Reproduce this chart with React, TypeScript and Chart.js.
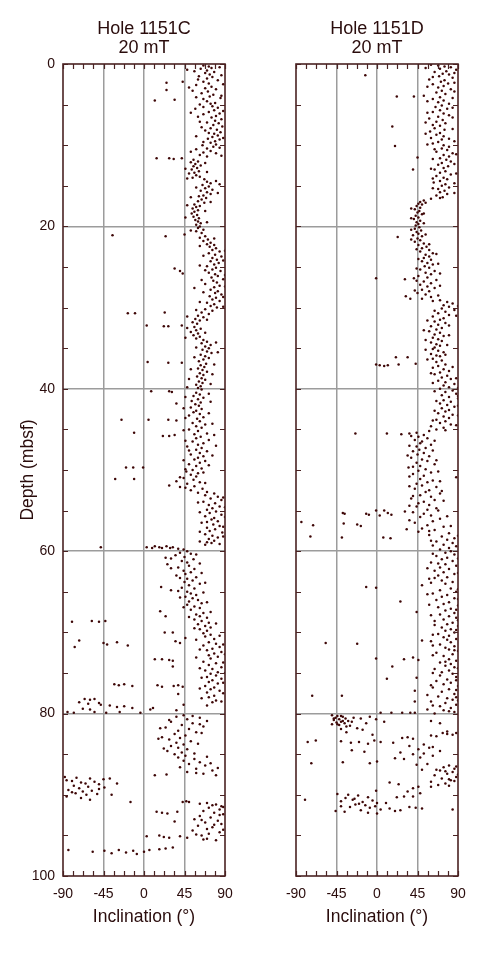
import React, { useEffect, useRef } from "react";
import { Chart, registerables } from "chart.js";

Chart.register(...registerables);

// ---------- DATA ----------
const xTickValues = [-90, -45, 0, 45, 90];
const yTickValues = [0, 20, 40, 60, 80, 100];
const titleC = ["Hole 1151C", "20 mT"];
const titleD = ["Hole 1151D", "20 mT"];
const xAxisTitle = "Inclination (°)";
const yAxisTitle = "Depth (mbsf)";

// [depth (mbsf), inclination (°)]
const hole1151C: [number, number][] = [
  [0.2,66],[0.3,72],[0.5,75],[0.6,63],[0.8,70],[1.0,78],[1.1,68],[1.3,73],[1.5,61],[1.6,76],[1.8,70],[2.0,82],[2.2,43],[2.3,25],[2.2,66],[2.4,72],[2.6,58],[2.8,75],[3.0,68],[3.2,25],[3.1,80],[3.4,71],[3.6,64],[3.8,77],[4.0,73],[4.2,85],[4.4,34],[4.5,12],[4.3,66],[4.6,70],[4.8,79],[5.0,62],[4.9,74],
  [5.2,76],[5.4,82],[5.5,57],[5.7,78],[5.9,72],[6.1,84],[6.2,66],[6.4,80],[6.6,75],[6.8,86],[7.0,79],[7.1,62],[7.3,83],[7.5,77],[7.7,87],[7.9,74],[8.1,81],[8.2,68],[8.4,85],[8.6,78],[8.8,82],[9.0,76],[9.2,71],[9.3,84],[9.5,79],[9.7,74],[9.9,80],[10.0,65],
  [10.2,77],[10.4,70],[10.5,58],[10.7,74],[10.9,66],[11.0,80],[11.2,62],[11.4,70],[11.6,14],[11.6,28],[11.7,33],[11.6,42],[11.8,55],[12.0,60],[12.1,52],[12.3,57],[12.5,63],[12.6,55],[12.8,59],[13.0,53],[13.2,61],[13.4,56],[13.5,50],[13.7,58],[13.9,62],[14.0,54],[14.2,67],[14.4,80],[14.5,70],[14.7,74],[14.9,65],
  [15.1,72],[15.3,68],[15.5,76],[15.6,63],[15.8,70],[16.0,74],[16.2,66],[16.3,61],[16.5,69],[16.7,64],[16.9,60],[17.1,67],[17.3,56],[17.5,62],[17.6,58],[17.8,54],[18.0,60],[18.2,56],[18.4,53],[18.6,59],[18.8,55],[19.0,61],[19.2,57],[19.4,60],[19.6,63],[19.8,58],[20.0,62],
  [20.2,60],[20.4,66],[20.6,58],[20.8,64],[21.0,45],[21.1,-35],[21.2,24],[21.2,68],[21.4,62],[21.6,71],[21.8,66],[22.0,74],[22.2,70],[22.3,78],[22.5,73],[22.7,80],[22.9,76],[23.1,84],[23.3,72],[23.5,79],[23.7,86],[23.9,76],[24.1,81],[24.3,74],[24.5,83],[24.7,78],[24.9,70],[25.2,34],[25.5,40],[25.8,43],
  [25.1,80],[25.3,76],[25.5,85],[25.7,72],[25.9,79],[26.1,82],[26.3,75],[26.5,88],[26.7,77],[26.9,81],[27.1,68],[27.3,84],[27.5,78],[27.6,56],[27.8,74],[28.0,82],[28.2,79],[28.4,86],[28.6,73],[28.8,80],[29.0,76],[29.2,84],[29.4,70],[29.6,78],[29.8,74],[30.0,81],[30.2,68],[30.4,76],
  [30.7,-18],[30.7,-10],[30.6,23],[30.6,64],[30.8,72],[31.0,60],[31.2,66],[31.4,57],[31.6,62],[31.8,54],[32.0,59],[32.2,3],[32.3,22],[32.3,27],[32.2,42],[32.4,56],[32.6,63],[32.8,58],[33.0,52],[33.2,60],[33.4,55],[33.6,62],[33.8,58],[34.0,66],[34.2,70],[34.4,64],[34.6,74],[34.8,68],[35.0,72],
  [35.2,65],[35.4,70],[35.6,75],[35.8,63],[36.0,68],[36.2,72],[36.4,66],[36.7,4],[36.8,27],[36.8,42],[36.6,61],[36.9,69],[37.1,63],[37.3,67],[37.5,60],[37.7,65],[37.9,70],[38.1,62],[38.3,66],[38.5,59],[38.7,64],[38.9,68],[39.1,61],[39.3,65],[39.5,58],[39.7,63],[39.9,60],
  [40.1,64],[40.3,8],[40.3,28],[40.4,31],[40.5,58],[40.7,62],[40.9,55],[41.1,66],[41.3,60],[41.5,53],[41.8,36],[41.7,63],[41.9,57],[42.1,61],[42.3,52],[42.5,64],[42.7,58],[42.9,55],[43.1,62],[43.3,50],[43.5,66],[43.8,-25],[43.8,5],[43.8,27],[43.9,36],[43.7,59],[44.0,62],[44.2,54],[44.4,68],[44.6,58],[44.8,64],
  [45.0,50],[45.2,60],[45.4,-11],[45.5,70],[45.6,56],[45.8,21],[45.8,28],[45.7,34],[45.9,63],[46.1,58],[46.3,72],[46.5,54],[46.7,66],[46.9,60],[47.1,48],[47.3,64],[47.5,58],[47.7,70],[47.9,62],[48.1,52],[48.3,66],[48.5,60],[48.7,56],[48.9,68],[49.1,62],[49.3,50],[49.5,58],[49.7,-20],[49.7,-12],[49.7,-1],[49.8,64],
  [50.0,54],[50.2,47],[50.4,60],[50.6,52],[50.8,58],[51.1,-32],[51.1,-11],[51.0,44],[51.2,55],[51.4,36],[51.5,62],[51.7,48],[51.9,28],[52.0,56],[52.1,40],[52.3,65],[52.5,52],[52.7,70],[52.9,78],[53.1,68],[53.3,82],[53.5,74],[53.7,86],[53.9,66],[54.1,79],[54.3,72],[54.5,84],[54.7,76],[54.9,70],
  [55.1,80],[55.3,73],[55.5,86],[55.7,68],[55.9,78],[56.1,75],[56.3,82],[56.5,64],[56.7,77],[56.9,84],[57.1,70],[57.3,79],[57.5,73],[57.7,87],[57.9,68],[58.1,76],[58.3,82],[58.5,72],[58.7,78],[58.9,70],[59.0,75],[59.2,68],[59.5,-48],[59.5,3],[59.6,9],[59.4,12],[59.5,17],[59.6,20],[59.4,25],[59.6,29],[59.5,32],[59.7,38],[59.8,44],
  [60.0,48],[60.2,40],[60.3,52],[60.5,35],[60.7,45],[60.9,30],[61.0,55],[61.2,42],[61.4,48],[61.6,26],[61.8,50],[62.0,38],[62.2,56],[62.4,44],[62.6,52],[62.8,46],[63.0,36],[63.2,58],[63.4,48],[63.6,54],[63.8,45],[64.0,62],[64.4,19],[64.2,50],[64.6,56],[64.8,30],[64.9,38],[65.0,48],
  [65.2,52],[65.4,58],[65.6,46],[65.8,54],[66.0,60],[66.2,50],[66.4,64],[66.6,48],[66.8,56],[67.0,62],[67.4,18],[67.2,52],[67.6,66],[67.8,58],[68.0,24],[68.0,62],[68.2,70],[68.4,56],[68.7,-80],[68.6,-58],[68.7,-50],[68.6,-43],[68.6,64],[68.8,72],[69.0,60],[69.2,68],[69.4,74],[69.6,62],[69.8,70],[70.0,23],[70.0,32],[70.1,66],
  [70.3,74],[70.5,68],[70.7,46],[70.8,78],[71.0,-72],[71.2,-30],[71.3,-45],[71.5,-41],[71.6,-18],[71.8,-77],[71.1,35],[71.3,40],[71.2,72],[71.4,80],[71.6,66],[71.8,84],[72.0,76],[72.2,70],[72.4,86],[72.6,78],[72.8,72],[73.0,82],[73.3,12],[73.3,20],[73.4,28],[73.2,74],[73.5,32],[73.6,66],[73.8,80],[74.0,72],[74.2,32],[74.3,86],[74.5,76],[74.7,68],[74.9,82],
  [75.1,74],[75.3,80],[75.5,70],[75.7,86],[75.9,76],[76.1,72],[76.4,-33],[76.5,-28],[76.4,-22],[76.6,-13],[76.5,15],[76.7,20],[76.6,33],[76.5,38],[76.7,43],[76.3,82],[76.6,68],[76.8,78],[77.0,74],[77.2,84],[77.4,70],[77.6,38],[77.8,78],[78.0,72],[78.2,-66],[78.3,-60],[78.2,-55],[78.4,80],[78.6,-72],[78.7,-50],[78.8,-62],[78.9,-48],[78.6,76],[78.9,44],[79.0,-38],[79.2,-30],[79.1,-22],[79.4,-68],[79.5,-60],[79.3,-13],[79.5,7],[79.3,10],[79.6,36],[79.8,-85],[79.9,-78],[79.8,-55],[79.9,-42],[79.8,-27],[79.9,-4],
  [80.2,44],[80.4,36],[80.5,62],[80.7,48],[80.9,70],[81.0,30],[81.2,54],[81.4,42],[81.6,66],[81.7,24],[81.9,50],[82.1,38],[82.3,58],[82.5,34],[82.7,46],[82.9,20],[83.0,40],[83.2,28],[83.4,52],[83.6,36],[83.8,44],[84.0,30],[84.2,38],[84.4,48],[84.6,26],[84.8,42],[85.0,34],
  [85.2,46],[85.4,38],[85.6,56],[85.8,44],[86.0,62],[86.2,50],[86.4,68],[86.6,40],[86.8,58],[87.0,76],[87.2,48],[87.4,66],[87.6,80],[87.6,12],[87.5,25],[87.8,-88],[87.9,-75],[88.0,-60],[88.1,-45],[88.0,-38],[88.3,-80],[88.5,-70],[88.4,-55],[88.6,-65],[88.7,-50],[88.9,-78],[89.0,-62],[89.2,-72],[89.1,-44],[89.4,-84],[89.5,-58],[89.6,-68],[89.8,-76],[89.9,-52],[90.0,-64],[88.6,-30],[90.0,-36],
  [90.2,-86],[90.4,-70],[90.6,-60],[90.9,43],[90.8,47],[90.9,50],[90.9,-15],[91.0,70],[91.2,80],[91.4,86],[91.3,76],[91.6,72],[91.8,84],[92.0,66],[92.2,78],[92.1,14],[92.2,20],[92.3,26],[92.1,37],[92.4,88],[92.6,62],[92.8,74],[93.0,56],[93.2,82],[93.3,34],[93.4,68],[93.6,86],[93.8,60],[94.0,76],[94.2,70],[94.4,54],[94.6,84],[94.8,72],[95.0,64],[95.1,3],[95.0,17],[95.2,22],[95.3,28],[95.1,40],[95.3,48],[95.4,70],[95.6,80],[96.8,-84],[97.0,-57],[96.9,-44],[97.2,-36],[96.8,-28],[97.1,-20],[96.9,-12],[97.3,-8],[97.0,0],[96.8,6],[96.7,17],[96.6,24],[96.5,32],
  [0.4,84],[0.9,56],[1.4,86],[1.9,60],[2.5,88],[3.3,54],[3.9,86],[4.1,58],[5.3,66],[5.8,88],[6.5,60],[7.2,70],[7.8,64],[8.5,72],[9.1,88],[9.6,66],[0.7,48],[2.9,50],[6.0,52],[8.9,58],
  [10.3,84],[10.8,52],[11.3,86],[12.2,68],[12.9,46],[13.3,70],[14.1,48],[14.8,84],[15.2,58],[15.9,82],[16.4,52],[17.0,74],[17.4,48],[18.1,68],[18.9,46],[19.5,70],
  [20.5,52],[21.5,78],[22.4,62],[23.0,90],[23.6,66],[24.2,88],[24.8,62],[25.4,68],[26.0,90],[26.6,64],[27.4,90],[28.1,66],[28.7,88],[29.3,62],[29.9,88],[30.3,58],
  [31.1,48],[31.5,70],[32.5,48],[33.1,68],[33.7,46],[34.3,80],[34.9,58],[35.5,82],[36.1,56],[37.0,78],[37.6,52],[38.2,76],[38.8,50],[39.4,74],[39.8,48],
  [40.6,72],[41.0,46],[41.6,74],[42.4,44],[43.0,72],[43.6,46],[44.3,76],[45.1,44],[45.7,78],[46.4,46],[47.0,80],[47.6,50],[48.2,76],[48.8,44],[49.4,72],[49.9,46],
  [50.3,66],[50.9,40],[51.6,68],[52.2,46],[52.8,60],[53.4,88],[54.0,60],[54.6,90],[55.2,62],[55.8,90],[56.4,70],[57.0,88],[57.6,62],[58.2,88],[58.8,62],[59.1,84],
  [60.4,58],[60.8,24],[61.5,62],[62.1,30],[62.7,64],[63.3,40],[63.9,68],[64.5,42],[65.1,66],[65.7,40],[66.3,70],[66.9,44],[67.5,74],[68.1,50],[68.9,80],[69.5,56],
  [70.4,84],[70.9,58],[71.5,88],[72.1,62],[72.7,90],[73.1,58],[73.7,88],[74.4,62],[75.0,90],[75.6,64],[76.2,88],[76.9,62],[77.5,88],[78.1,64],[78.5,86],[79.0,70],
  [80.3,54],[80.8,28],[81.3,62],[81.8,18],[82.4,64],[83.1,16],[83.7,60],[84.3,22],[84.9,56],[85.3,70],[86.1,74],[86.7,82],[87.3,58],[88.2,-86],[89.3,-50],[89.7,-80],
  [91.1,62],[91.5,88],[92.5,84],[93.1,64],[93.7,78],[94.3,88],[94.9,58],[95.5,66]
];

const hole1151D: [number, number][] = [
  [0.1,60],[0.2,68],[0.3,75],[0.4,82],[0.6,70],[0.7,88],[0.9,77],[1.0,64],[1.2,73],[1.4,-13],[1.3,80],[1.5,69],[1.7,84],[1.9,58],[2.0,75],[2.2,71],[2.4,79],[2.5,62],[2.7,74],[2.9,68],[3.1,82],[3.3,72],[3.5,66],[3.7,76],[3.9,52],[4.0,22],[4.0,41],[4.1,70],[4.3,62],[4.5,74],[4.7,68],[4.9,80],
  [5.1,72],[5.3,65],[5.5,78],[5.7,70],[5.9,62],[6.1,74],[6.3,80],[6.5,68],[6.7,58],[6.9,73],[7.1,66],[7.3,76],[7.5,62],[7.7,17],[7.6,70],[7.9,64],[8.1,75],[8.3,59],[8.5,70],[8.7,66],[8.9,74],[9.1,60],[9.3,72],[9.5,86],[9.6,68],[9.8,62],[10.0,74],[10.1,20],
  [10.2,80],[10.4,72],[10.6,78],[10.8,66],[11.0,84],[11.2,74],[11.4,80],[11.5,45],[11.6,70],[11.8,77],[12.0,82],[12.2,72],[12.4,68],[12.6,79],[12.8,74],[13.0,40],[13.0,64],[13.2,76],[13.4,70],[13.6,82],[13.8,66],[14.0,74],[14.2,78],[14.4,70],[14.6,63],[14.8,76],
  [15.0,72],[15.2,80],[15.4,68],[15.6,75],[15.8,70],[16.0,78],[16.2,66],[16.4,73],[16.6,60],[16.8,52],[17.0,48],[17.2,46],[17.3,50],[17.5,44],[17.7,48],[17.9,42],[18.1,47],[18.3,45],[18.5,50],[18.7,43],[18.9,46],[19.1,41],[19.3,48],[19.5,44],[19.7,46],[19.9,43],
  [20.1,47],[20.3,42],[20.5,49],[20.7,44],[20.9,46],[21.1,40],[21.3,23],[21.2,50],[21.5,45],[21.7,48],[21.9,42],[22.1,52],[22.3,46],[22.5,55],[22.7,50],[22.9,58],[23.1,48],[23.3,62],[23.5,54],[23.7,58],[23.9,52],[24.1,60],[24.3,50],[24.5,56],[24.7,62],[24.9,53],
  [25.1,58],[25.3,48],[25.5,64],[25.7,54],[25.9,60],[26.1,46],[26.4,-1],[26.5,31],[26.4,41],[26.3,56],[26.6,66],[26.8,52],[27.0,60],[27.2,48],[27.4,56],[27.6,64],[27.8,50],[28.0,58],[28.2,45],[28.4,54],[28.6,32],[28.9,37],[28.7,60],[28.9,50],[29.1,70],[29.3,78],[29.5,84],[29.7,74],[29.9,80],
  [30.1,72],[30.3,86],[30.5,76],[30.7,68],[30.9,80],[31.1,62],[31.3,74],[31.5,70],[31.7,64],[31.9,76],[32.1,68],[32.3,60],[32.5,72],[32.7,66],[32.9,58],[33.1,70],[33.3,64],[33.5,74],[33.7,62],[33.9,68],[34.1,72],[34.3,60],[34.5,66],[34.7,70],[34.9,64],
  [35.1,62],[35.3,68],[35.5,74],[35.7,60],[35.9,66],[36.1,21],[36.1,34],[36.0,70],[36.3,62],[36.5,72],[36.7,66],[37.0,-1],[37.1,3],[37.2,8],[37.1,12],[37.0,24],[36.9,43],[37.0,76],[37.2,68],[37.4,62],[37.6,74],[37.8,80],[38.0,70],[38.2,64],[38.4,78],[38.6,72],[38.8,82],[39.0,68],[39.2,76],[39.4,86],[39.6,74],[39.8,80],
  [40.0,70],[40.2,84],[40.4,76],[40.6,88],[40.8,72],[41.0,80],[41.2,90],[41.4,74],[41.6,82],[41.8,70],[42.0,78],[42.2,86],[42.4,72],[42.6,80],[42.8,76],[43.0,68],[43.2,84],[43.4,74],[43.6,80],[43.8,66],[44.0,76],[44.2,70],[44.4,82],[44.6,60],[44.8,74],
  [45.0,66],[45.2,58],[45.5,-24],[45.5,11],[45.6,27],[45.5,36],[45.4,44],[45.7,52],[45.9,46],[46.1,56],[46.3,42],[46.5,50],[46.7,48],[46.9,60],[47.1,44],[47.3,54],[47.5,47],[47.7,40],[47.9,52],[48.1,45],[48.3,58],[48.5,38],[48.7,50],[48.9,56],[49.1,44],[49.3,64],[49.5,48],[49.7,35],[49.9,54],
  [50.1,46],[50.3,60],[50.5,40],[50.7,52],[50.9,88],[51.1,48],[51.3,62],[51.5,56],[51.7,44],[51.9,50],[52.1,66],[52.3,42],[52.5,58],[52.7,54],[52.9,70],[53.1,48],[53.3,60],[53.5,38],[53.7,64],[53.9,52],[54.1,46],[54.3,58],[54.5,44],[54.7,66],[54.9,56],
  [55.0,-1],[55.0,8],[55.1,31],[55.3,-38],[55.4,-36],[55.4,-12],[55.5,-9],[55.6,3],[55.3,12],[55.5,16],[55.2,40],[55.4,52],[55.6,60],[55.8,48],[56.0,70],[56.2,36],[56.4,-84],[56.6,-37],[56.7,-22],[56.8,-71],[56.9,-18],[56.5,42],[56.8,56],[57.0,74],[57.2,50],[57.3,33],[57.4,64],[57.6,46],[57.8,80],[58.2,-74],[58.3,-39],[58.3,7],[58.4,15],[58.0,58],[58.2,72],[58.4,86],[58.6,78],[58.8,66],[59.0,84],[59.2,74],[59.4,88],[59.6,80],[59.8,70],
  [60.0,82],[60.2,76],[60.4,86],[60.6,66],[60.8,78],[61.0,72],[61.2,84],[61.4,60],[61.6,76],[61.8,88],[62.0,70],[62.2,80],[62.4,64],[62.6,74],[62.8,86],[63.0,68],[63.2,78],[63.4,58],[63.6,72],[63.8,84],[64.0,76],[64.2,50],[64.4,-12],[64.5,-1],[64.6,82],[64.8,70],[65.0,88],
  [65.2,62],[65.4,78],[65.6,72],[65.8,86],[66.0,66],[66.2,26],[66.3,80],[66.5,74],[66.7,90],[66.9,68],[67.1,82],[67.3,76],[67.5,44],[67.6,86],[67.8,70],[68.0,80],[68.2,88],[68.4,74],[68.6,64],[68.8,84],[69.0,78],[69.2,90],[69.4,72],[69.6,82],[69.8,76],
  [70.0,86],[70.2,68],[70.4,80],[70.6,74],[70.8,88],[71.0,50],[71.1,60],[71.3,-57],[71.4,-22],[71.2,82],[71.5,70],[71.7,86],[71.9,76],[72.1,80],[72.3,90],[72.5,66],[72.7,84],[72.9,74],[73.2,-1],[73.3,30],[73.1,40],[73.4,46],[73.3,80],[73.5,88],[73.7,70],[73.9,82],[74.1,76],[74.2,17],[74.3,86],[74.5,64],[74.7,80],[74.9,72],
  [75.1,84],[75.3,70],[75.5,88],[75.7,11],[75.6,44],[75.8,78],[76.0,66],[76.2,82],[76.4,74],[76.6,90],[76.8,62],[77.0,80],[77.2,42],[77.3,72],[77.6,86],[77.8,-72],[77.8,-39],[77.9,68],[78.1,78],[78.3,84],[78.5,60],[78.5,42],[78.7,76],[78.9,88],[79.1,70],[79.3,82],[79.5,56],[79.6,74],[79.8,86],[79.9,4],[79.9,16],[79.9,28],[79.9,37],[79.9,42],[80.0,64],
  [80.2,-50],[80.3,-44],[80.4,-38],[80.5,-46],[80.6,-35],[80.7,-42],[80.8,-48],[80.9,-32],[81.0,-40],[81.1,-45],[81.2,-36],[81.3,-50],[81.4,-42],[81.5,-30],[80.5,-26],[80.6,-18],[80.4,-8],[80.7,-1],[81.2,-12],[81.0,8],[81.8,-22],[81.9,-40],[80.9,60],[81.2,70],[82.0,-16],[82.3,-34],[82.4,73],[82.5,78],[82.6,84],[82.4,88],[82.8,66],[82.9,34],[83.0,28],[83.1,40],[82.6,-5],[83.3,-68],[83.5,-77],[83.4,-40],[83.6,-29],[83.5,-20],[83.7,-10],[83.3,-3],[83.5,4],[83.6,18],[83.8,52],[84.0,36],[84.2,58],[84.4,46],[84.6,70],[84.8,26],[84.5,-28],[84.7,-14],
  [85.0,40],[85.2,62],[85.4,48],[85.5,20],[85.6,30],[85.9,0],[86.0,-38],[86.1,-73],[86.1,-8],[86.2,56],[86.3,44],[86.4,80],[86.6,74],[86.8,86],[86.9,50],[87.0,70],[87.2,84],[87.4,78],[87.6,64],[87.8,88],[88.0,72],[88.2,82],[88.4,60],[88.6,76],[88.8,68],[88.5,14],[88.7,24],[89.0,46],[89.2,40],[89.5,-1],[89.6,34],[89.9,-44],[90.0,-32],[90.1,-21],[90.3,-10],[90.4,-35],[90.3,22],[90.2,30],[90.6,-80],[90.6,-27],[90.8,-40],[90.9,-16],[90.7,-5],[91.0,10],[91.2,-24],[91.3,-13],[91.4,-2],[91.5,-30],[91.6,-8],[91.8,4],[91.9,-18],[92.0,-46],[91.7,14],[91.9,26],[91.8,84],[92.1,-36],[92.2,-10],[92.3,0],[91.5,36],[91.6,43],[91.7,50],[92.0,20],
  [0.5,54],[1.1,86],[1.6,62],[2.3,86],[2.8,56],[3.4,86],[4.2,84],[4.6,56],[5.4,84],[6.0,56],[6.6,84],[7.2,54],[8.0,84],[8.6,54],[9.2,80],[9.9,56],
  [10.5,64],[11.1,88],[11.7,62],[12.3,86],[12.9,60],[13.5,88],[14.1,62],[14.7,86],[15.3,62],[15.9,86],[16.5,70],[17.1,54],[17.8,38],[18.4,52],[19.0,38],[19.6,52],
  [20.4,38],[21.0,54],[21.6,38],[22.2,58],[22.8,44],[23.4,66],[24.0,46],[24.6,68],[25.2,44],[25.8,70],[26.7,44],[27.3,70],[27.9,42],[28.5,68],[29.2,62],[29.8,90],
  [30.4,64],[31.0,88],[31.6,56],[32.2,80],[32.8,52],[33.4,80],[34.0,54],[34.6,78],[35.2,54],[35.8,76],[36.4,56],[37.3,84],[38.1,60],[38.7,88],[39.3,62],[39.9,90],
  [40.3,64],[40.9,90],[41.5,66],[42.1,90],[42.7,64],[43.3,90],[43.9,62],[44.5,88],[45.1,76],[45.8,38],[46.4,64],[47.0,36],[47.6,62],[48.2,34],[48.8,66],[49.6,40],
  [50.2,68],[50.8,36],[51.4,70],[52.0,36],[52.6,72],[53.2,40],[53.8,74],[54.4,36],[55.0,68],[55.7,78],[56.3,62],[56.9,82],[57.5,58],[58.1,90],[58.7,60],[59.3,62],
  [60.3,62],[60.9,90],[61.5,68],[62.1,56],[62.7,90],[63.3,64],[63.9,60],[64.7,90],[65.3,56],[65.9,90],[66.6,58],[67.2,88],[67.9,60],[68.5,90],[69.1,64],[69.7,88],
  [70.3,62],[70.9,78],[71.6,62],[72.2,86],[72.8,62],[73.6,76],[74.4,90],[75.0,62],[75.9,88],[76.5,60],[77.1,88],[77.7,56],[78.4,90],[79.0,62],[79.7,80],[78.0,88],
  [80.3,-40],[80.6,-48],[80.9,-38],[81.0,-28],[81.3,-44],[81.6,-34],[82.2,78],[82.7,60],[84.1,62],[84.9,52],[86.5,88],[86.9,66],[87.5,90],[88.1,80],[88.3,86],[87.1,76],[89.0,60],[88.9,80],[90.5,-25],[91.1,-20],[91.4,-40],[91.0,0],[90.2,40],[89.8,48]
];

// ---------- STYLE ----------
const FONT = "'Liberation Sans', Arial, Helvetica, sans-serif";
const TEXT_COLOR = "#2a0c0c";
const FRAME_COLOR = "#4a2222";
const GRID_COLOR = "#9c9c9c";
const POINT_COLOR = "#3e0707";

const framePlugin = {
  id: "framePlugin",
  afterDatasetsDraw(chart: any, _args: any, opts: any) {
    const { ctx, chartArea: a, scales } = chart;
    const xs = scales.x;
    const ys = scales.y;
    ctx.save();
    ctx.strokeStyle = FRAME_COLOR;
    ctx.lineWidth = 1.2;
    ctx.beginPath();
    for (let i = 0; i <= 16; i++) {
      const px = Math.round(xs.getPixelForValue(-90 + i * 11.25)) + 0.5;
      ctx.moveTo(px, a.top);
      ctx.lineTo(px, a.top + 5);
      ctx.moveTo(px, a.bottom);
      ctx.lineTo(px, a.bottom - 5);
    }
    for (let i = 0; i <= 20; i++) {
      const py = Math.round(ys.getPixelForValue(i * 5)) + 0.5;
      ctx.moveTo(a.left, py);
      ctx.lineTo(a.left + 5, py);
      ctx.moveTo(a.right, py);
      ctx.lineTo(a.right - 5, py);
    }
    ctx.stroke();
    ctx.lineWidth = 1.6;
    ctx.strokeRect(a.left, a.top, a.right - a.left, a.bottom - a.top);

    const cx = (a.left + a.right) / 2;
    ctx.fillStyle = TEXT_COLOR;
    ctx.textAlign = "center";
    ctx.textBaseline = "alphabetic";
    ctx.font = `18px ${FONT}`;
    ctx.fillText(opts.title[0], cx, 34);
    ctx.fillText(opts.title[1], cx, 53);
    ctx.font = `17.5px ${FONT}`;
    ctx.fillText(xAxisTitle, cx, a.bottom + 46);
    if (opts.showYTitle) {
      ctx.save();
      ctx.translate(33, (a.top + a.bottom) / 2);
      ctx.rotate(-Math.PI / 2);
      ctx.font = `17.5px ${FONT}`;
      ctx.fillText(yAxisTitle, 0, 0);
      ctx.restore();
    }
    ctx.restore();
  },
};

type PanelProps = {
  data: [number, number][];
  title: string[];
  showY: boolean;
  yWidth: number;
  padRight: number;
};

function Panel({ data, title, showY, yWidth, padRight }: PanelProps) {
  const ref = useRef<HTMLCanvasElement | null>(null);
  useEffect(() => {
    if (!ref.current) return;
    const chart = new Chart(ref.current, {
      type: "scatter",
      data: {
        datasets: [
          {
            data: data.map(([d, inc]) => ({ x: inc, y: d })),
            backgroundColor: POINT_COLOR,
            borderWidth: 0,
            pointRadius: 1.25,
          },
        ],
      },
      options: {
        animation: false,
        responsive: false,
        devicePixelRatio: 1,
        layout: { padding: { top: 64, right: padRight, left: 0, bottom: 0 } },
        plugins: {
          legend: { display: false },
          tooltip: { enabled: false },
          framePlugin: { title, showYTitle: showY },
        } as any,
        scales: {
          x: {
            type: "linear",
            position: "bottom",
            min: -90,
            max: 90,
            afterBuildTicks: (s: any) => {
              s.ticks = xTickValues.map((v) => ({ value: v }));
            },
            afterFit: (s: any) => {
              s.height = 78;
            },
            ticks: {
              autoSkip: false,
              maxRotation: 0,
              padding: 10,
              color: TEXT_COLOR,
              font: { family: FONT, size: 14 },
            },
            grid: {
              drawTicks: false,
              lineWidth: 1.5,
              color: (c: any) =>
                c.tick && (c.tick.value === -90 || c.tick.value === 90) ? "rgba(0,0,0,0)" : GRID_COLOR,
            },
            border: { display: false },
          },
          y: {
            type: "linear",
            position: "left",
            reverse: true,
            min: 0,
            max: 100,
            afterBuildTicks: (s: any) => {
              s.ticks = yTickValues.map((v) => ({ value: v }));
            },
            afterFit: (s: any) => {
              s.width = yWidth;
            },
            ticks: {
              display: showY,
              autoSkip: false,
              padding: 8,
              color: TEXT_COLOR,
              font: { family: FONT, size: 14 },
            },
            grid: {
              drawTicks: false,
              lineWidth: 1.5,
              color: (c: any) =>
                c.tick && (c.tick.value === 0 || c.tick.value === 100) ? "rgba(0,0,0,0)" : GRID_COLOR,
            },
            border: { display: false },
          },
        },
      },
      plugins: [framePlugin],
    });
    return () => chart.destroy();
  }, [data, title, showY, yWidth, padRight]);
  return <canvas ref={ref} width={243} height={954} style={{ width: 243, height: 954, display: "block" }} />;
}

export default function App() {
  return (
    <div style={{ position: "absolute", left: 0, top: 0, width: 486, height: 954, background: "#fff", display: "flex" }}>
      <Panel data={hole1151C} title={titleC} showY={true} yWidth={63} padRight={18} />
      <Panel data={hole1151D} title={titleD} showY={false} yWidth={53} padRight={28} />
    </div>
  );
}
